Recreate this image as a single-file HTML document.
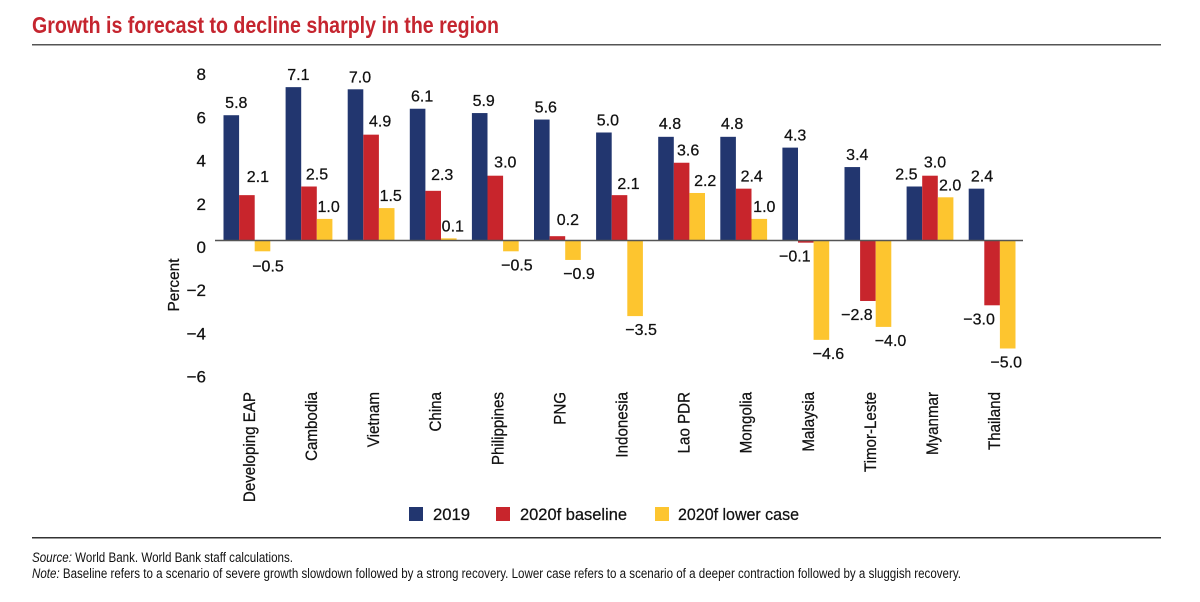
<!DOCTYPE html>
<html lang="en">
<head>
<meta charset="utf-8">
<title>Growth is forecast to decline sharply in the region</title>
<style>
html,body{margin:0;padding:0;background:#fff;width:1200px;height:602px;overflow:hidden}
svg{display:block}
text{font-family:"Liberation Sans",sans-serif;fill:#111}
.v{font-size:16px;stroke:#111;stroke-width:.25px}
.cat{font-size:17px;stroke:#111;stroke-width:.25px}
.tick{font-size:17px;stroke:#111;stroke-width:.25px}
.leg{font-size:17px;stroke:#111;stroke-width:.25px}
</style>
</head>
<body>
<svg id="chart" xmlns="http://www.w3.org/2000/svg" width="1200" height="602" viewBox="0 0 1200 602">
  <rect x="0" y="0" width="1200" height="602" fill="#fff"/>
  <text x="32" y="33" font-size="23" font-weight="700" style="fill:#c5252f" textLength="467" lengthAdjust="spacingAndGlyphs">Growth is forecast to decline sharply in the region</text>
  <rect x="32" y="44" width="1129" height="1.5" fill="#555"/>
  <text class="v" transform="translate(179,285) rotate(-90)" text-anchor="middle" textLength="53" lengthAdjust="spacingAndGlyphs">Percent</text>
  <g id="plot"></g>
  <g>
    <rect x="409" y="507" width="14" height="14" fill="#22366f"/>
    <text class="leg" x="433" y="520" textLength="37" lengthAdjust="spacingAndGlyphs">2019</text>
    <rect x="496" y="507" width="14" height="14" fill="#c8252c"/>
    <text class="leg" x="520" y="520" textLength="107" lengthAdjust="spacingAndGlyphs">2020f baseline</text>
    <rect x="655" y="507" width="14" height="14" fill="#fdc52f"/>
    <text class="leg" x="678" y="520" textLength="121" lengthAdjust="spacingAndGlyphs">2020f lower case</text>
  </g>
  <rect x="32" y="537" width="1129" height="1.5" fill="#333"/>
  <text x="32" y="562" font-size="13.5" textLength="261" lengthAdjust="spacingAndGlyphs"><tspan font-style="italic">Source:</tspan> World Bank. World Bank staff calculations.</text>
  <text x="32" y="578" font-size="13.5" textLength="929" lengthAdjust="spacingAndGlyphs"><tspan font-style="italic">Note:</tspan> Baseline refers to a scenario of severe growth slowdown followed by a strong recovery. Lower case refers to a scenario of a deeper contraction followed by a sluggish recovery.</text>
</svg>
<script>
const categories = ["Developing EAP","Cambodia","Vietnam","China","Philippines","PNG","Indonesia","Lao PDR","Mongolia","Malaysia","Timor-Leste","Myanmar","Thailand"];
const series2019 = [5.8,7.1,7.0,6.1,5.9,5.6,5.0,4.8,4.8,4.3,3.4,2.5,2.4];
const seriesBaseline = [2.1,2.5,4.9,2.3,3.0,0.2,2.1,3.6,2.4,-0.1,-2.8,3.0,-3.0];
const seriesLower = [-0.5,1.0,1.5,0.1,-0.5,-0.9,-3.5,2.2,1.0,-4.6,-4.0,2.0,-5.0];
const yTicks = [8,6,4,2,0,-2,-4,-6];

// Hand placement of value labels relative to their bars: [dx, dy] per series, per category.
const nudge2019 = [[5,0],[5,0],[4.5,0],[4.5,0],[4,0],[4,0],[4,0],[4,-1],[4,-1],[5,0],[5,0],[-8,0],[5.5,0]];
const nudgeBaseline = [[11,-6],[8,0],[9,-1],[9,-4],[10,-1],[10.5,-4],[9,1],[6.5,0],[8,0],[-11,0],[-11,0],[5,-1],[-13,0]];
const nudgeLower = [[5.5,1],[4,0],[4,0],[4,0],[6,0],[6,0],[6,0],[8,0],[5,0],[7,0],[7,0],[4.5,0],[-1.5,0]];

const seriesList = [
  {key:"2019", values:series2019, nudge:nudge2019, color:"#22366f"},
  {key:"baseline", values:seriesBaseline, nudge:nudgeBaseline, color:"#c8252c"},
  {key:"lower-case", values:seriesLower, nudge:nudgeLower, color:"#fdc52f"}
];

const NS = "http://www.w3.org/2000/svg";
const plot = document.getElementById("plot");
const zeroY = 240.5, unit = 21.6, firstX = 223.5, pitch = 62.1, barW = 15.6;
function yScale(v){ return zeroY - unit * v; }
function xScale(g, s){ return firstX + pitch * g + barW * s; }
function fmt(v){ return (v < 0 ? "\u2212" : "") + Math.abs(v).toFixed(1); }
function slug(s){ return s.toLowerCase().replace(/[^a-z0-9]+/g, "-"); }

yTicks.forEach(function(t){
  const el = document.createElementNS(NS, "text");
  
  
  el.setAttribute("x", 206);
  el.setAttribute("y", yScale(t) + 12.5);
  el.setAttribute("text-anchor", "end");
  el.setAttribute("class", "tick");
  el.textContent = t < 0 ? "\u2212" + Math.abs(t) : String(t);
  plot.appendChild(el);
});

seriesList.forEach(function(series, s){
  series.values.forEach(function(v, g){
    const y0 = yScale(Math.max(v, 0));
    const y1 = yScale(Math.min(v, 0));
    const bar = document.createElementNS(NS, "rect");
    
    
    bar.setAttribute("x", xScale(g, s));
    bar.setAttribute("y", y0);
    bar.setAttribute("width", barW);
    bar.setAttribute("height", y1 - y0);
    bar.setAttribute("fill", series.color);
    plot.appendChild(bar);

    const n = series.nudge[g];
    const cy = yScale(v) + (v < 0 ? 13 : -13) + n[1];
    const label = document.createElementNS(NS, "text");
    
    
    label.setAttribute("x", xScale(g, s) + barW / 2 + n[0]);
    label.setAttribute("y", cy + 6);
    label.setAttribute("text-anchor", "middle");
    label.setAttribute("class", "v");
    label.textContent = fmt(v);
    plot.appendChild(label);
  });
});

const axis = document.createElementNS(NS, "rect");


axis.setAttribute("x", 215);
axis.setAttribute("y", zeroY - 0.75);
axis.setAttribute("width", 808);
axis.setAttribute("height", 1.5);
axis.setAttribute("fill", "#555");
plot.appendChild(axis);

categories.forEach(function(c, g){
  const cx = xScale(g, 1.5) + 8;
  const el = document.createElementNS(NS, "text");
  
  
  el.setAttribute("transform", "translate(" + cx + ",392) rotate(-90) scale(0.89,1)");
  el.setAttribute("text-anchor", "end");
  el.setAttribute("class", "cat");
  el.textContent = c;
  plot.appendChild(el);
});
</script>
</body>
</html>
